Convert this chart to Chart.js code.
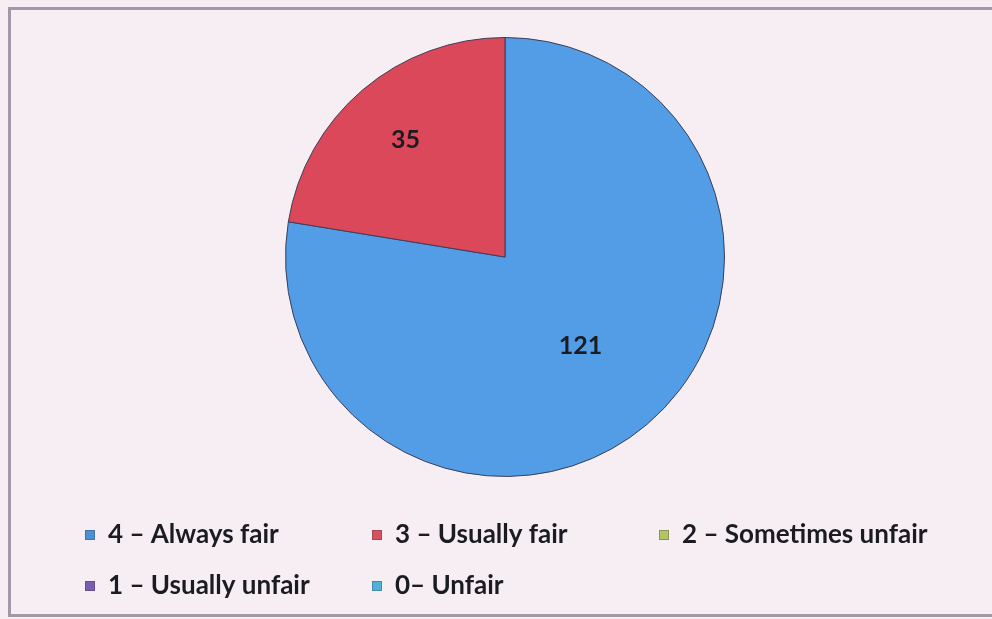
<!DOCTYPE html>
<html>
<head>
<meta charset="utf-8">
<script src="https://cdn.jsdelivr.net/npm/chart.js@4"></script>
<style>
  html, body { margin: 0; padding: 0; background: #f6eef2; }
  #wrap { width: 992px; height: 619px; }
</style>
</head>
<body>
<div id="wrap"><canvas id="chart-pie" width="992" height="619"></canvas></div>
<script>
// категории и значения
const categories = [
  "4 \u2013 Always fair",
  "3 \u2013 Usually fair",
  "2 \u2013 Sometimes unfair",
  "1 \u2013 Usually unfair",
  "0\u2013 Unfair",
];
const counts = [121, 35, 0, 0, 0];

const sliceColors = ["#539ce6", "#db4859", "#a9c25e", "#7d5fb0", "#4fb2d6"];
const legendColors = ["#4a8fd8", "#d9505c", "#b3c462", "#7a5cb0", "#4fb0d8"];

const canvas = document.getElementById("chart-pie");
const ctx = canvas.getContext("2d");

const config = {
  type: "pie",
  data: {
    labels: categories,
    datasets: [
      {
        data: counts,
        backgroundColor: sliceColors,
        borderColor: "#3b3f5c",
        borderWidth: 1,
      },
    ],
  },
  options: {
    responsive: false,
    animation: false,
    layout: {
      padding: { top: 37, left: 285, right: 267, bottom: 142 },
    },
    plugins: {
      legend: { display: false },
      tooltip: { enabled: false },
    },
  },
  plugins: [
    {
      // фон и рамка
      id: "frame",
      beforeDraw(chart) {
        const { ctx, width, height } = chart;
        ctx.save();
        ctx.fillStyle = "#f6eef2";
        ctx.fillRect(0, 0, width, height);
        ctx.strokeStyle = "#9f99a8";
        ctx.lineWidth = 3;
        ctx.beginPath();
        ctx.moveTo(width + 2, 8.5);
        ctx.lineTo(9.5, 8.5);
        ctx.lineTo(9.5, 615.5);
        ctx.lineTo(width + 2, 615.5);
        ctx.stroke();
        ctx.restore();
      },
    },
    {
      // подписи значений на секторах
      id: "sliceLabels",
      afterDatasetsDraw(chart) {
        const { ctx } = chart;
        const meta = chart.getDatasetMeta(0);
        const factors = [0.53, 0.7];
        ctx.save();
        ctx.font = 'bold 25px Lato, "Open Sans", sans-serif';
        ctx.fillStyle = "#1b1b22";
        ctx.textAlign = "center";
        ctx.textBaseline = "middle";
        meta.data.forEach((arc, i) => {
          const v = counts[i];
          if (!v) return;
          const { x, y, startAngle, endAngle, outerRadius } = arc.getProps(
            ["x", "y", "startAngle", "endAngle", "outerRadius"],
            true,
          );
          const mid = (startAngle + endAngle) / 2;
          const r = outerRadius * (factors[i] || 0.5);
          ctx.fillText(String(v), x + Math.cos(mid) * r, y + Math.sin(mid) * r);
        });
        ctx.restore();
      },
    },
    {
      // легенда сеткой 3 колонки
      id: "gridLegend",
      afterDraw(chart) {
        const { ctx } = chart;
        const colX = [85, 372, 659];
        const rowY = [535, 586];
        ctx.save();
        ctx.font = 'bold 26px Lato, "Open Sans", sans-serif';
        ctx.textBaseline = "middle";
        categories.forEach((label, i) => {
          const x = colX[i % 3];
          const y = rowY[Math.floor(i / 3)];
          ctx.fillStyle = legendColors[i];
          ctx.fillRect(x, y - 5, 10, 10);
          ctx.strokeStyle = "rgba(60,60,80,0.35)";
          ctx.lineWidth = 1;
          ctx.strokeRect(x + 0.5, y - 4.5, 9, 9);
          ctx.fillStyle = "#1b1b22";
          ctx.fillText(label, x + 23, y);
        });
        ctx.restore();
      },
    },
  ],
};

new Chart(ctx, config);
</script>
</body>
</html>
